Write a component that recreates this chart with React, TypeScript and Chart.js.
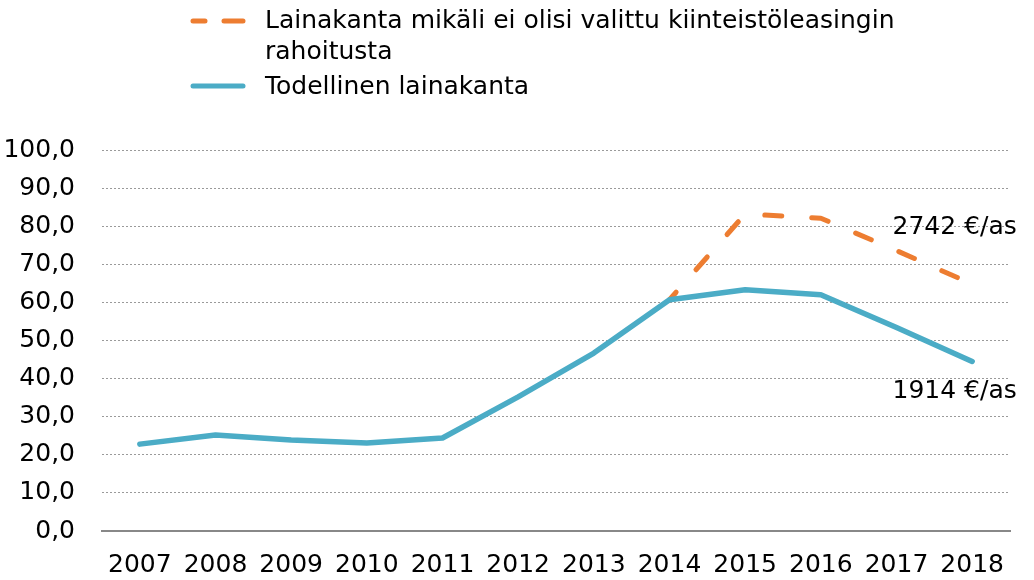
import React, { useEffect, useRef } from "react";
import { Chart, registerables } from "chart.js";

Chart.register(...registerables);

const years = ["2007", "2008", "2009", "2010", "2011", "2012", "2013", "2014", "2015", "2016", "2017", "2018"];
const actualLoan = [22.8, 25.2, 23.9, 23.1, 24.4, 35.2, 46.7, 60.7, 63.3, 62.0, 53.4, 44.5];
const loanWithoutLeasing = [null, null, null, null, null, null, null, 60.7, 83.2, 82.1, 73.6, 64.8];
const seriesNames = ["Lainakanta mikäli ei olisi valittu kiinteistöleasingin", "rahoitusta", "Todellinen lainakanta"];
const annotations = [
  { text: "2742 €/as", index: 10, value: 79.6 },
  { text: "1914 €/as", index: 10, value: 36.5 },
];

const FONT = "'DejaVu Sans', sans-serif";
const BLUE = "#4BACC6";
const ORANGE = "#ED7D31";

const overlayPlugin = {
  id: "overlay",
  afterDraw(chart: any) {
    const ctx = chart.ctx;
    const xs = chart.scales.x;
    const ys = chart.scales.y;
    ctx.save();
    ctx.font = `25px ${FONT}`;
    ctx.fillStyle = "#000";
    ctx.textBaseline = "middle";
    ctx.textAlign = "left";
    annotations.forEach((a) => {
      ctx.fillText(a.text, xs.getPixelForValue(a.index) - 4, ys.getPixelForValue(a.value));
    });
    ctx.lineWidth = 5;
    ctx.lineCap = "round";
    ctx.strokeStyle = ORANGE;
    ctx.beginPath();
    ctx.moveTo(193, 21);
    ctx.lineTo(205, 21);
    ctx.moveTo(224, 21);
    ctx.lineTo(243, 21);
    ctx.stroke();
    ctx.strokeStyle = BLUE;
    ctx.beginPath();
    ctx.moveTo(193, 86);
    ctx.lineTo(243, 86);
    ctx.stroke();
    ctx.fillText(seriesNames[0], 265, 21);
    ctx.fillText(seriesNames[1], 265, 52);
    ctx.fillText(seriesNames[2], 265, 87);
    ctx.restore();
  },
};

export default function App() {
  const ref = useRef<HTMLCanvasElement>(null);
  useEffect(() => {
    if (!ref.current) return;
    const chart = new Chart(ref.current, {
      type: "line",
      data: {
        labels: years,
        datasets: [
          {
            label: seriesNames[0] + " " + seriesNames[1],
            data: loanWithoutLeasing as any,
            borderColor: ORANGE,
            backgroundColor: ORANGE,
            borderWidth: 5,
            borderDash: [17, 30],
            borderDashOffset: 7,
            borderCapStyle: "round",
            borderJoinStyle: "round",
            pointRadius: 0,
            tension: 0,
            order: 2,
            spanGaps: false,
          },
          {
            label: seriesNames[2],
            data: actualLoan,
            borderColor: BLUE,
            backgroundColor: BLUE,
            borderWidth: 5.5,
            borderCapStyle: "round",
            borderJoinStyle: "round",
            pointRadius: 0,
            tension: 0,
            order: 1,
          },
        ],
      },
      options: {
        responsive: false,
        animation: false,
        layout: { padding: { top: 150, right: 24, left: 0, bottom: 0 } },
        plugins: { legend: { display: false }, tooltip: { enabled: false } },
        scales: {
          x: {
            offset: true,
            grid: { display: false, drawTicks: false },
            border: { display: true, color: "#888", width: 2 },
            ticks: { font: { family: FONT, size: 25 }, color: "#000", padding: 19, maxRotation: 0, autoSkip: false },
            afterFit: (s: any) => { s.height = 49; },
          },
          y: {
            min: 0,
            max: 100,
            ticks: {
              stepSize: 10,
              font: { family: FONT, size: 25 },
              color: "#000",
              padding: 27,
              callback: (v: any) => Number(v).toFixed(1).replace(".", ","),
            },
            grid: { color: "#9a9a9a", lineWidth: 1, drawTicks: false },
            border: { display: false, dash: [2, 2] },
            afterFit: (s: any) => { s.width = 102; },
          },
        },
      },
      plugins: [overlayPlugin],
    });
    return () => chart.destroy();
  }, []);
  return (
    <div style={{ position: "absolute", left: 0, top: 0, width: 1034, height: 580, background: "#fff" }}>
      <canvas ref={ref} width={1034} height={580} />
    </div>
  );
}
